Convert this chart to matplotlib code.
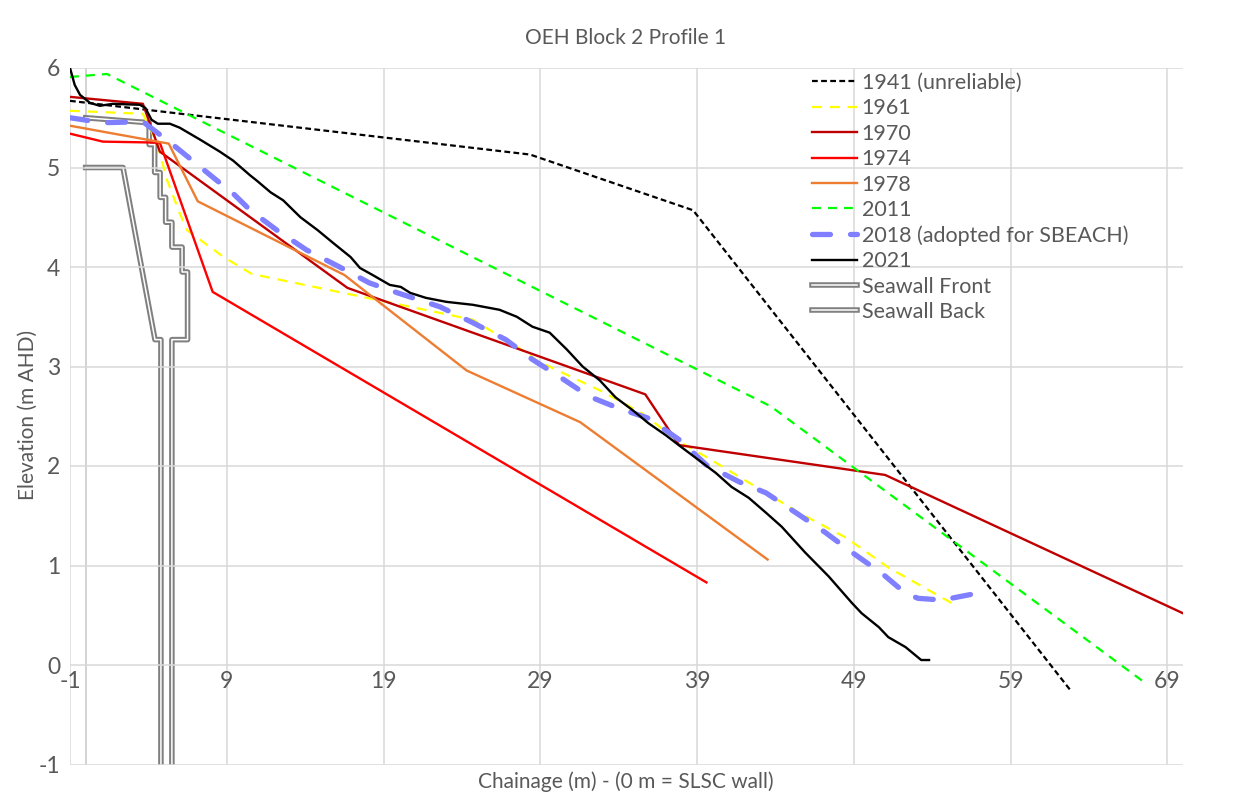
import matplotlib
matplotlib.use("Agg")
import matplotlib.pyplot as plt
import matplotlib.patheffects as pe

plt.rcParams['font.family'] = ['Lato', 'DejaVu Sans']
plt.rcParams['axes.unicode_minus'] = False

# Профили (chainage, elevation)
x_1941 = [-1, 28.35, 38.75, 62.8]
y_1941 = [5.67, 5.13, 4.57, -0.25]

x_1961 = [-1, 3.65, 4.55, 5.2, 6.0, 6.47, 8.8, 10.6, 24.7, 27.5, 28.9, 32.8, 35.5, 37.7, 39.6,
          45.5, 48.5, 51.2, 53.8, 55.5]
y_1961 = [5.57, 5.54, 5.25, 4.87, 4.54, 4.37, 4.10, 3.93, 3.47, 3.20, 3.05, 2.76, 2.53, 2.26, 2.09,
          1.53, 1.28, 0.98, 0.75, 0.60]

x_1970 = [-1, 3.65, 4.73, 16.7, 35.7, 37.85, 51.0, 70]
y_1970 = [5.71, 5.64, 5.16, 3.79, 2.72, 2.21, 1.91, 0.52]

x_1974 = [-1, 1.1, 4.73, 8.1, 39.6]
y_1974 = [5.34, 5.26, 5.25, 3.75, 0.83]

x_1978 = [-1, 5.3, 7.15, 16.5, 24.3, 31.55, 43.5]
y_1978 = [5.42, 5.24, 4.66, 3.92, 2.96, 2.44, 1.06]

x_2011 = [-1, 1.36, 43.7, 67.5]
y_2011 = [5.91, 5.94, 2.60, -0.17]

x_2018 = [-1, 1.1, 3.65, 4.73, 5.4, 8.6, 9.4, 10.5, 12.2, 14.1, 16.2, 18.1, 19.9, 22.6, 24.7,
          26.8, 28.5, 30.2, 32.1, 34.0, 35.9, 37.9, 39.6, 41.7, 43.4, 45.5, 47.2, 48.9, 50.8,
          52.3, 53.1, 54.9, 55.2, 56.5]
y_2018 = [5.50, 5.45, 5.46, 5.33, 5.25, 4.84, 4.74, 4.57, 4.37, 4.17, 4.00, 3.84, 3.74, 3.60, 3.44,
          3.27, 3.07, 2.90, 2.70, 2.58, 2.48, 2.26, 2.01, 1.84, 1.73, 1.51, 1.33, 1.13, 0.92,
          0.72, 0.67, 0.65, 0.67, 0.71]

x_2021 = [-1, -0.7, -0.36, 0.27, 0.9, 1.74, 3.46, 3.8, 4.2, 4.6, 5.37, 6.0, 7.3, 8.55, 9.4, 10.5,
          10.9, 11.8, 12.6, 13.7, 14.8, 15.8, 16.9, 17.5, 18.3, 19.4, 20.1, 20.7, 21.7, 23.0,
          24.7, 26.4, 27.5, 28.5, 29.6, 30.7, 31.7, 32.8, 33.8, 34.9, 35.9, 37.0, 38.0, 39.1,
          40.2, 41.2, 42.3, 43.4, 44.4, 45.9, 47.4, 48.9, 49.5, 50.6, 51.2, 52.3, 53.3, 53.8]
y_2021 = [6.0, 5.83, 5.73, 5.65, 5.62, 5.64, 5.63, 5.60, 5.48, 5.44, 5.44, 5.40, 5.28, 5.16, 5.07, 4.92,
          4.87, 4.75, 4.67, 4.50, 4.37, 4.24, 4.10, 3.99, 3.92, 3.82, 3.80, 3.74, 3.69, 3.65,
          3.62, 3.57, 3.50, 3.40, 3.34, 3.17, 3.00, 2.86, 2.69, 2.56, 2.43, 2.31, 2.19, 2.06,
          1.93, 1.79, 1.68, 1.53, 1.39, 1.13, 0.89, 0.62, 0.52, 0.38, 0.28, 0.18, 0.05, 0.05]

# Стенка (лицевая и тыльная грани)
x_front = [0, 4.05, 4.05, 4.4, 4.4, 4.75, 4.75, 5.1, 5.1, 5.5, 5.5, 6.15, 6.15, 6.5, 6.5, 5.5, 5.5]
y_front = [5.5, 5.45, 5.23, 5.23, 4.95, 4.95, 4.7, 4.7, 4.45, 4.45, 4.2, 4.2, 3.95, 3.95, 3.27, 3.27, -1.3]
x_back = [0, 2.38, 4.42, 4.8, 4.8]
y_back = [5.0, 5.0, 3.27, 3.27, -1.3]

x_ticks = [-1, 9, 19, 29, 39, 49, 59, 69]
y_ticks = [-1, 0, 1, 2, 3, 4, 5, 6]

txt = '#595959'
grid = '#d9d9d9'

fig = plt.figure(figsize=(12.37, 8.07), dpi=100)
ax = fig.add_axes([70 / 1237, 1 - 764.5 / 807, 1113 / 1237, (764.5 - 68) / 807])

ax.set_xlim(-1, 70)
ax.set_ylim(-1, 6)
ax.set_xticks(x_ticks)
ax.set_yticks(y_ticks)
ax.grid(True, color=grid, linewidth=1.1, zorder=0)
ax.axvline(0, color='#c8c8c8', linewidth=1.1, zorder=0.5)
for s in ax.spines.values():
    s.set_visible(False)
ax.spines['bottom'].set_position(('data', 0))
ax.tick_params(length=0, labelsize=16.5, labelcolor=txt)
ax.tick_params(axis='x', pad=4)
ax.tick_params(axis='y', pad=7)

wall = dict(color='white', linewidth=1.1, zorder=1,
            path_effects=[pe.Stroke(linewidth=4.0, foreground='#808080'), pe.Normal()])

ax.plot(x_1941, y_1941, color='black', lw=1.6, ls=(0, (2.6, 1.5)), label='1941 (unreliable)', zorder=3)
ax.plot(x_1961, y_1961, color='#FFFF00', lw=1.6, ls=(0, (4.5, 3.5)), label='1961', zorder=3)
ax.plot(x_1970, y_1970, color='#C00000', lw=1.7, label='1970', zorder=3)
ax.plot(x_1974, y_1974, color='#FF0000', lw=1.7, label='1974', zorder=3)
ax.plot(x_1978, y_1978, color='#ED7D31', lw=1.7, label='1978', zorder=3)
ax.plot(x_2011, y_2011, color='#00FF00', lw=1.6, ls=(0, (4, 3.2)), label='2011', zorder=3)
ax.plot(x_2018, y_2018, color='#7F7FFF', lw=3.8, ls=(0, (3.4, 3.8)), dash_capstyle='round',
        label='2018 (adopted for SBEACH)', zorder=3)
ax.plot(x_2021, y_2021, color='black', lw=1.7, label='2021', zorder=4)
ax.plot(x_front, y_front, label='Seawall Front', **wall)
ax.plot(x_back, y_back, label='Seawall Back', **wall)

ax.legend(loc='upper left', bbox_to_anchor=(812 / 1237, 1 - 73 / 807), bbox_transform=fig.transFigure,
          frameon=False, fontsize=15.5, labelcolor=txt, handlelength=2.1, handletextpad=0.2,
          labelspacing=0.25, borderpad=0, borderaxespad=0)

fig.text(626 / 1237, 1 - 38 / 807, 'OEH Block 2 Profile 1', ha='center', va='center', fontsize=15, color=txt)
fig.text(28 / 1237, 1 - 415 / 807, 'Elevation (m AHD)', ha='center', va='center', rotation=90,
         fontsize=15, color=txt)
fig.text(626 / 1237, 1 - 782 / 807, 'Chainage (m) - (0 m = SLSC wall)', ha='center', va='center',
         fontsize=15, color=txt)

fig.savefig('out.png', dpi=100)
